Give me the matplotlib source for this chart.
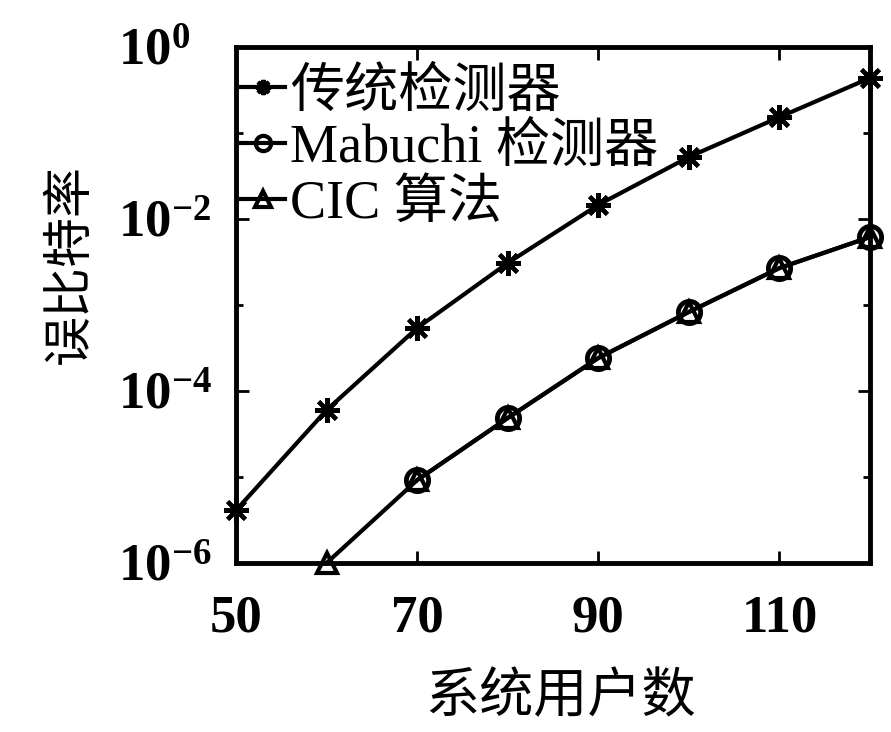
import matplotlib
matplotlib.use("Agg")
import matplotlib.pyplot as plt
from matplotlib.ticker import FixedLocator, LogLocator, NullFormatter

plt.rcParams['font.family'] = ['Liberation Serif', 'Noto Sans CJK SC']
plt.rcParams['mathtext.fontset'] = 'custom'
plt.rcParams['mathtext.rm'] = 'Liberation Serif:bold'
plt.rcParams['mathtext.it'] = 'Liberation Serif:bold'
plt.rcParams['mathtext.bf'] = 'Liberation Serif:bold'

# Bit error rate vs. number of system users
users_conv = [50, 60, 70, 80, 90, 100, 110, 120]
ber_conv = [4.1e-6, 6.0e-5, 5.4e-4, 3.08e-3, 1.46e-2, 5.26e-2, 1.53e-1, 4.37e-1]

users_mab = [70, 80, 90, 100, 110, 120]
ber_mab = [9.2e-6, 4.85e-5, 2.42e-4, 8.3e-4, 2.69e-3, 6.17e-3]

users_cic = [60, 70, 80, 90, 100, 110, 120]
ber_cic = [1.0e-6, 9.2e-6, 4.85e-5, 2.42e-4, 8.3e-4, 2.69e-3, 6.17e-3]

labels = ['传统检测器', 'Mabuchi 检测器', 'CIC 算法']
x_ticks = [50, 70, 90, 110]
y_ticks = [1e-6, 1e-4, 1e-2, 1e0]
y_tick_labels = [r'$10^{-6}$', r'$10^{-4}$', r'$10^{-2}$', r'$10^{0}$']

fig = plt.figure(figsize=(8.91, 7.32), dpi=100)
ax = fig.add_axes([0.2649, 0.2309, 0.7116, 0.7049])

lw = 3.0
ax.plot(users_conv, ber_conv, color='black', lw=lw, marker=(8, 2, 0),
        markersize=18, markeredgewidth=3.0, label=labels[0], clip_on=False,
        zorder=3)
ax.plot(users_mab, ber_mab, color='black', lw=lw, marker='o',
        markersize=16, markerfacecolor='none', markeredgewidth=3.5,
        label=labels[1], clip_on=False, zorder=3)
ax.plot(users_cic, ber_cic, color='black', lw=lw, marker='^',
        markersize=14, markerfacecolor='none', markeredgewidth=3.0,
        label=labels[2], clip_on=False, zorder=3)

ax.set_yscale('log')
ax.set_xlim(50, 120)
ax.set_ylim(1e-6, 1e0)
ax.xaxis.set_major_locator(FixedLocator(x_ticks))
ax.set_yticks(y_ticks)
ax.set_yticklabels(y_tick_labels, ha='left')
ax.yaxis.set_minor_locator(LogLocator(base=10, subs=[1.0], numticks=20))
ax.yaxis.set_minor_formatter(NullFormatter())

ax.tick_params(axis='both', which='both', direction='in', top=True,
               right=True, labelsize=38, width=2)
ax.tick_params(axis='both', which='major', length=9)
ax.tick_params(axis='x', which='major', pad=23)
ax.tick_params(axis='y', which='major', pad=85)
ax.tick_params(axis='y', which='minor', length=5)
for lab in ax.get_xticklabels():
    lab.set_fontweight('bold')
for sp in ax.spines.values():
    sp.set_linewidth(3.5)

ax.set_xlabel('系统用户数', fontsize=39, fontweight='medium')
ax.xaxis.set_label_coords(0.512, -0.215)
ax.set_ylabel('误比特率', fontsize=36, fontweight='medium')
ax.yaxis.set_label_coords(-0.222, 0.58)

leg = ax.legend(loc='upper left', bbox_to_anchor=(0.0, 0.97), frameon=False,
                prop={'size': 39, 'weight': 'medium'},
                handlelength=0.8, handletextpad=0.1, borderaxespad=0.05,
                labelspacing=0.1, borderpad=0.05)
for h in leg.legend_handles:
    h.set_markersize(11)
    h.set_linewidth(3.0)
    h.set_markeredgewidth(3.0)

fig.savefig('out.png', dpi=100)
